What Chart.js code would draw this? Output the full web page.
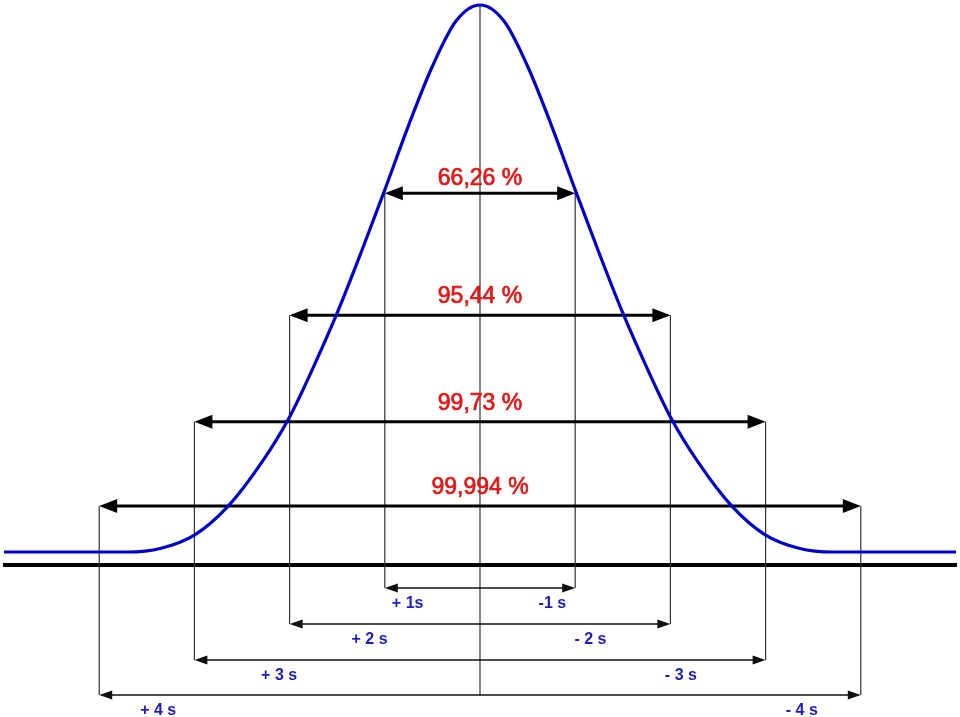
<!DOCTYPE html>
<html lang="pt-BR">
<head>
    <meta charset="UTF-8">
    <title>Distribuição normal</title>
    <script src="https://cdn.jsdelivr.net/npm/chart.js"></script>
    <style>
        html, body { margin: 0; padding: 0; background: #fff; }
        #wrap { width: 960px; height: 717px; }
    </style>
</head>
<body>
    <div id="wrap"><canvas id="curvaChart" width="960" height="717"></canvas></div>

    <script>
        // curva (x em desvios padrão, y relativo ao pico)
        const curveX = [-5, -3.7, -3.35, -3.0, -2.65, -2.3, -2.0, -1.75, -1.5, -1.25, -1.0, -0.75, -0.5, -0.25, 0,
                        0.25, 0.5, 0.75, 1.0, 1.25, 1.5, 1.75, 2.0, 2.3, 2.65, 3.0, 3.35, 3.7, 5];
        const curveY = [0, 0, 0.007, 0.031, 0.083, 0.162, 0.247, 0.338, 0.437, 0.547, 0.662, 0.78, 0.888, 0.971, 1,
                        0.971, 0.888, 0.78, 0.662, 0.547, 0.437, 0.338, 0.247, 0.162, 0.083, 0.031, 0.007, 0, 0];

        // intervalos
        const sigmas = [1, 2, 3, 4];
        const percentLabels = ['66,26 %', '95,44 %', '99,73 %', '99,994 %'];
        const leftLabels = ['+ 1s', '+ 2 s', '+ 3 s', '+ 4 s'];
        const rightLabels = ['-1 s', '- 2 s', '- 3 s', '- 4 s'];

        // posições das setas (unidades do eixo y) e dos rótulos
        const topArrowY = [0.656, 0.433, 0.238, 0.084];
        const dimArrowY = [-0.0658, -0.1316, -0.1974, -0.2614];
        const labelOffset = [0.76, 1.16, 2.11, 3.38];
        const baseY = -0.0238;

        const points = curveX.map((x, i) => ({ x: x, y: curveY[i] }));

        function arrow(ctx, x1, x2, y, lw, hl, hw, color) {
            ctx.save();
            ctx.strokeStyle = color;
            ctx.fillStyle = color;
            ctx.lineWidth = lw;
            ctx.beginPath();
            ctx.moveTo(x1 + hl * 0.8, y);
            ctx.lineTo(x2 - hl * 0.8, y);
            ctx.stroke();
            ctx.beginPath();
            ctx.moveTo(x1, y);
            ctx.lineTo(x1 + hl, y - hw);
            ctx.lineTo(x1 + hl, y + hw);
            ctx.closePath();
            ctx.fill();
            ctx.beginPath();
            ctx.moveTo(x2, y);
            ctx.lineTo(x2 - hl, y - hw);
            ctx.lineTo(x2 - hl, y + hw);
            ctx.closePath();
            ctx.fill();
            ctx.restore();
        }

        function vline(ctx, x, y1, y2) {
            ctx.save();
            ctx.strokeStyle = '#333';
            ctx.lineWidth = 1.2;
            ctx.beginPath();
            ctx.moveTo(x, y1);
            ctx.lineTo(x, y2);
            ctx.stroke();
            ctx.restore();
        }

        const annotations = {
            id: 'annotations',
            beforeDatasetsDraw(chart) {
                const ctx = chart.ctx;
                const xs = chart.scales.x, ys = chart.scales.y;
                const cx = xs.getPixelForValue(0);

                // linha central
                vline(ctx, cx, ys.getPixelForValue(1), ys.getPixelForValue(dimArrowY[3]));

                // linha de base
                ctx.save();
                ctx.strokeStyle = '#000';
                ctx.lineWidth = 4;
                ctx.beginPath();
                ctx.moveTo(xs.getPixelForValue(-5.01), ys.getPixelForValue(baseY));
                ctx.lineTo(xs.getPixelForValue(5.01), ys.getPixelForValue(baseY));
                ctx.stroke();
                ctx.restore();

                sigmas.forEach((s, i) => {
                    const xl = xs.getPixelForValue(-s), xr = xs.getPixelForValue(s);
                    const yt = ys.getPixelForValue(topArrowY[i]);
                    const yd = ys.getPixelForValue(dimArrowY[i]);
                    vline(ctx, xl, yt, yd);
                    vline(ctx, xr, yt, yd);
                    arrow(ctx, xl, xr, yt, 3, 18, 7, '#000');
                    arrow(ctx, xl, xr, yd, 1.5, 13, 4.5, '#111');
                });
            },
            afterDatasetsDraw(chart) {
                const ctx = chart.ctx;
                const xs = chart.scales.x, ys = chart.scales.y;
                const cx = xs.getPixelForValue(0);
                ctx.save();
                ctx.textAlign = 'center';
                ctx.textBaseline = 'middle';
                sigmas.forEach((s, i) => {
                    const yt = ys.getPixelForValue(topArrowY[i]);
                    const yd = ys.getPixelForValue(dimArrowY[i]);
                    ctx.fillStyle = 'rgb(226, 22, 22)';
                    ctx.strokeStyle = 'rgb(226, 22, 22)';
                    ctx.lineWidth = 0.7;
                    ctx.font = '23px "Liberation Sans", Arial, sans-serif';
                    const ty = yt - (i === 0 ? 15 : 18);
                    ctx.fillText(percentLabels[i], cx, ty);
                    ctx.strokeText(percentLabels[i], cx, ty);
                    ctx.fillStyle = 'rgb(28, 28, 190)';
                    ctx.font = 'bold 16px "Liberation Sans", Arial, sans-serif';
                    ctx.fillText(leftLabels[i], xs.getPixelForValue(-labelOffset[i]), yd + 16);
                    ctx.fillText(rightLabels[i], xs.getPixelForValue(labelOffset[i]), yd + 16);
                });
                ctx.restore();
            }
        };

        const config = {
            type: 'scatter',
            data: {
                datasets: [{
                    data: points,
                    showLine: true,
                    borderColor: 'rgb(0, 0, 204)',
                    borderWidth: 3.2,
                    pointRadius: 0,
                    cubicInterpolationMode: 'monotone',
                    fill: false
                }]
            },
            options: {
                responsive: false,
                animation: false,
                layout: { padding: 0 },
                plugins: {
                    legend: { display: false },
                    tooltip: { enabled: false }
                },
                scales: {
                    x: { type: 'linear', min: -5.042, max: 5.042, display: false },
                    y: { type: 'linear', min: -0.3016, max: 1.0091, display: false }
                }
            },
            plugins: [annotations]
        };

        var ctx = document.getElementById('curvaChart').getContext('2d');
        new Chart(ctx, config);
    </script>
</body>
</html>
